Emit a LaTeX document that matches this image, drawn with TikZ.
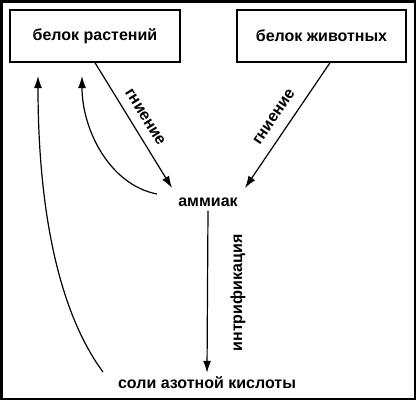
\documentclass[tikz,border=0pt]{standalone}
\usepackage{fontspec}
\setmainfont{Liberation Sans}
\usetikzlibrary{arrows.meta,calc}
\begin{document}
\begin{tikzpicture}[x=1pt,y=-1pt,
  lbl/.style={font=\fontsize{16}{18}\selectfont\bfseries, inner sep=0pt},
  boxnode/.style={draw, line width=1.4pt, minimum width=170pt, minimum height=52pt, font=\fontsize{16}{18}\selectfont\bfseries},
  arr/.style={line width=1.2pt, -{Latex[length=12pt,width=8pt]}}]
\useasboundingbox (0,0) rectangle (416,400);
\draw[line width=2.5pt] (1.25,1.25) rectangle (414.75,398.75);
\node[boxnode] (b1) at (95,36) {белок растений};
\node[boxnode, minimum width=169pt] (b2) at (321.5,36) {белок животных};
\node[lbl, inner sep=4pt] (am) at (208,202) {аммиак};
\node[lbl, inner sep=4pt] (salt) at (207,383) {соли азотной кислоты};
\coordinate (s2) at ($(b2.south west)!0.55!(b2.south east)$);
\coordinate (e1) at (172,188);
\coordinate (e2) at (245,188);
\draw[arr] (b1.south) -- (e1);
\draw[arr] (s2) -- (e2);
\draw[arr] (am.south) -- (salt.north);
\coordinate (c1s) at (157,194);
\coordinate (c1e) at (82,76);
\coordinate (c2s) at (103,372);
\coordinate (c2e) at (38,76);
\draw[arr] (c1s) .. controls (110,185) and (82,130) .. (c1e);
\draw[arr] (c2s) .. controls (50,300) and (38,180) .. (c2e);
\node[lbl, rotate=-58] (g1) at (145,117) {гниение};
\node[lbl, rotate=56] (g2) at (274,117) {гниение};
\node[lbl, rotate=90] (nitr) at (238,293) {интрификация};
\end{tikzpicture}
\end{document}
